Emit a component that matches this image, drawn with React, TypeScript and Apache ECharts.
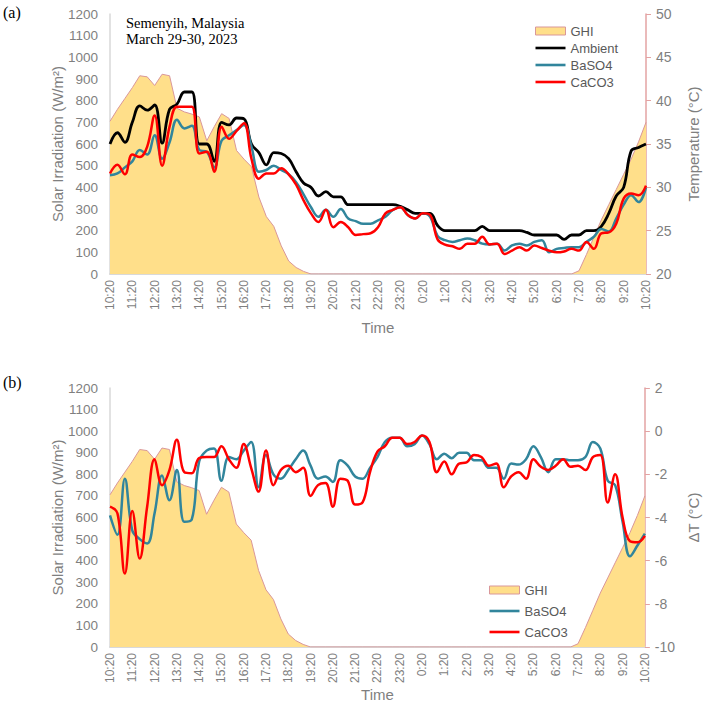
import React, { useEffect, useRef } from 'react';
import * as echarts from 'echarts';

// Hourly tick labels (x axis spans 24 h starting 10:20)
const X_TICK_LABELS = [
  '10:20', '11:20', '12:20', '13:20', '14:20', '15:20', '16:20', '17:20', '18:20',
  '19:20', '20:20', '21:20', '22:20', '23:20', '0:20', '1:20', '2:20', '3:20',
  '4:20', '5:20', '6:20', '7:20', '8:20', '9:20', '10:20',
];
const LEFT_TICKS_MAX = 1200;
const SAMPLE_HOURS = 1 / 3; // one sample every 20 minutes

// Global horizontal irradiance, W/m² (73 samples, 20-min step)
const GHI = [
  705, 760, 810, 860, 915, 910, 870, 922, 915, 765, 748, 738, 725, 615, 680, 740, 718, 570,
  530, 495, 355, 265, 220, 130, 60, 30, 12, 0,
  0, 0, 0, 0, 0, 0, 0, 0, 0, 0, 0, 0, 0, 0, 0, 0, 0, 0, 0, 0, 0, 0, 0, 0, 0, 0, 0, 0, 0, 0,
  0, 0, 0, 0, 0,
  15, 90, 170, 250, 320, 390, 460, 530, 610, 700,
];

// Temperatures, °C (panel a)
const AMBIENT = [
  35.0, 36.3, 35.2, 37.5, 39.4, 38.9, 39.5, 35.1, 39.0, 39.6, 41.0, 41.0, 35.0, 35.0, 33.0,
  37.5, 37.2, 38.0, 37.9, 35.0, 34.0, 32.6, 34.0, 33.9, 33.3, 31.8, 30.5, 30.0, 29.0, 29.5,
  28.9, 28.9, 28.0, 28.0, 28.0, 28.0, 28.0, 28.0, 28.0, 27.8, 27.4, 27.0, 27.0, 27.0, 25.6,
  25.0, 25.0, 25.0, 25.0, 25.0, 25.5, 25.0, 25.0, 25.0, 25.0, 25.0, 24.8, 24.5, 24.5, 24.5,
  24.5, 24.0, 24.5, 24.5, 25.0, 25.0, 25.5, 27.0, 29.0, 30.0, 34.2, 34.6, 35.0,
];
const BASO4_T = [
  31.4, 31.6, 32.3, 33.0, 34.3, 33.8, 36.0, 33.3, 35.2, 37.8, 36.8, 37.1, 34.3, 34.1, 32.3,
  35.4, 36.0, 36.6, 37.2, 34.7, 31.8, 32.0, 32.5, 32.0, 31.5, 30.6, 29.2, 27.7, 26.6, 27.4,
  26.6, 27.5, 26.4, 26.1, 25.8, 25.8, 26.2, 26.6, 27.4, 27.7, 26.8, 26.4, 27.0, 26.6, 24.4,
  23.9, 23.7, 23.9, 24.1, 23.9, 23.5, 23.4, 23.5, 22.7, 23.3, 23.5, 23.3, 23.7, 23.9, 22.5,
  22.9, 23.0, 23.1, 23.1, 23.7, 24.3, 25.2, 24.9, 26.4, 28.0, 29.1, 28.3, 30.0,
];
const CACO3_T = [
  31.6, 32.6, 31.5, 33.8, 33.5, 34.7, 38.3, 32.5, 37.0, 39.3, 39.3, 39.3, 33.9, 34.1, 31.8,
  37.0, 35.6, 36.5, 37.4, 33.3, 31.0, 31.6, 31.6, 32.2, 31.5, 30.3, 28.5, 27.0, 26.0, 27.4,
  25.4, 26.0, 25.4, 24.5, 24.6, 24.7, 25.4, 27.0, 27.4, 27.7, 26.8, 26.4, 27.0, 26.8, 24.0,
  23.4, 23.2, 22.9, 23.5, 23.5, 24.3, 23.4, 23.5, 22.3, 22.7, 23.1, 22.7, 23.3, 23.0, 22.7,
  22.5, 22.6, 22.9, 22.7, 23.7, 22.9, 24.7, 24.8, 25.8, 28.7, 29.3, 29.1, 30.2,
];

// Temperature difference ΔT, °C (panel b)
const BASO4_DT = [
  -3.9, -4.8, -2.2, -4.6, -5.0, -5.2, -3.8, -2.05, -3.2, -1.8, -4.2, -4.1, -1.4, -0.9, -0.8,
  -2.3, -1.2, -1.3, -0.9, -0.5, -2.6, -1.1, -2.0, -2.2, -1.8, -1.3, -0.9, -1.6, -2.2, -2.1,
  -2.35, -1.35, -1.6, -2.1, -2.2, -1.7, -1.2, -0.5, -0.3, -0.3, -0.7, -0.6, -0.2, -0.6, -1.3,
  -1.05, -1.25, -1.0, -1.0, -1.35, -1.35, -1.7, -1.7, -2.2, -1.5, -1.55, -1.3, -0.7, -1.2, -1.9,
  -1.3, -1.3, -1.35, -1.35, -1.2, -0.5, -0.8, -2.3, -2.5, -4.2, -5.8, -5.3, -4.75,
];
const CACO3_DT = [
  -3.5, -3.8, -6.6, -3.7, -5.9, -3.5, -1.3, -2.5, -1.8, -0.4, -1.9, -1.95, -1.25, -1.2, -1.2,
  -0.7, -1.3, -1.7, -0.6, -1.7, -2.8, -0.9, -2.5, -1.8, -1.6, -1.9, -1.7, -3.0, -2.5, -2.4,
  -3.5, -2.2, -2.3, -3.4, -3.3, -1.9, -0.95, -0.7, -0.3, -0.3, -0.6, -0.5, -0.2, -0.5, -1.9,
  -1.4, -2.0, -1.5, -1.45, -1.1, -1.2, -1.6, -1.5, -2.6, -2.1, -1.9, -2.2, -1.3, -1.65, -1.8,
  -1.6, -1.3, -1.65, -1.6, -1.8, -1.2, -1.1, -3.3, -2.0, -4.0, -5.1, -5.15, -4.85,
];

const SANS = "'Liberation Sans', Arial, sans-serif";
const SERIF = "'Liberation Serif', 'Times New Roman', serif";
const GRAY = '#7f7f7f';
const PINK = '#E3A3A3';
const GHI_FILL = '#FFDF8A';
const GHI_EDGE = '#D9979A';
const C_AMB = '#000000';
const C_BA = '#31859C';
const C_CA = '#FF0000';

const pairs = (arr: number[]) => arr.map((v, i) => [i * SAMPLE_HOURS, v]);
const plain = (v: number) => String(v);

function xAxis(gridIndex: number, nameGap: number) {
  return {
    type: 'value',
    gridIndex,
    min: 0,
    max: X_TICK_LABELS.length - 1,
    interval: 1,
    axisLine: { show: true, onZero: false, lineStyle: { color: '#D9D9D9', width: 2 } },
    axisTick: { show: false },
    splitLine: { show: false },
    axisLabel: {
      rotate: 90,
      margin: 6,
      color: GRAY,
      fontSize: 12,
      fontFamily: SANS,
      showMinLabel: true,
      showMaxLabel: true,
      formatter: (v: number) => X_TICK_LABELS[Math.round(v)] ?? '',
    },
    name: 'Time',
    nameLocation: 'middle',
    nameGap,
    nameMoveOverlap: false,
    nameTextStyle: { color: GRAY, fontSize: 15, fontFamily: SANS },
  };
}

function leftAxis(gridIndex: number) {
  return {
    type: 'value',
    gridIndex,
    position: 'left',
    min: 0,
    max: LEFT_TICKS_MAX,
    interval: 100,
    axisLine: { show: true, onZero: false, lineStyle: { color: '#D9D9D9', width: 1.5 } },
    axisTick: { show: false },
    splitLine: { show: false },
    axisLabel: { color: GRAY, fontSize: 13.5, fontFamily: SANS, margin: 12, formatter: plain },
    name: 'Solar Irradiation (W/m²)',
    nameLocation: 'middle',
    nameRotate: 90,
    nameGap: 45,
    nameMoveOverlap: false,
    nameTextStyle: { color: GRAY, fontSize: 15, fontFamily: SANS },
  };
}

function rightAxis(gridIndex: number, min: number, max: number, interval: number, name: string) {
  return {
    type: 'value',
    gridIndex,
    position: 'right',
    min,
    max,
    interval,
    axisLine: { show: true, onZero: false, lineStyle: { color: PINK, width: 1.5 } },
    axisTick: { show: true, inside: false, length: 5, lineStyle: { color: PINK } },
    splitLine: { show: false },
    axisLabel: { color: GRAY, fontSize: 14, fontFamily: SANS, margin: 10, formatter: plain },
    name,
    nameLocation: 'middle',
    nameRotate: 90,
    nameGap: 40,
    nameTextStyle: { color: GRAY, fontSize: 15, fontFamily: SANS },
  };
}

function ghiSeries(xi: number, yi: number) {
  return {
    name: 'GHI',
    type: 'line',
    xAxisIndex: xi,
    yAxisIndex: yi,
    data: pairs(GHI),
    symbol: 'none',
    smooth: false,
    itemStyle: { color: GHI_FILL },
    lineStyle: { color: GHI_EDGE, width: 1 },
    areaStyle: { color: GHI_FILL, opacity: 1 },
    z: 1,
  };
}

function lineSeries(name: string, data: number[], color: string, xi: number, yi: number, width = 2.5) {
  return {
    name,
    type: 'line',
    xAxisIndex: xi,
    yAxisIndex: yi,
    data: pairs(data),
    symbol: 'none',
    smooth: 0.4,
    itemStyle: { color },
    lineStyle: { color, width },
    z: 3,
  };
}

const LINE_ICON = 'path://M0,0H30V2.6H0Z';
const legendItems = (names: string[], colors: Record<string, string>) =>
  names.map((n) =>
    n === 'GHI'
      ? { name: n, icon: 'rect', itemStyle: { color: GHI_FILL, borderColor: GHI_EDGE, borderWidth: 1 } }
      : { name: n, icon: LINE_ICON, itemStyle: { color: colors[n], borderWidth: 0 } },
  );

export default function App() {
  const ref = useRef<HTMLDivElement>(null);
  useEffect(() => {
    if (!ref.current) return;
    const chart = echarts.init(ref.current, undefined, { renderer: 'svg' });
    const colors = { Ambient: C_AMB, BaSO4: C_BA, CaCO3: C_CA };
    chart.setOption({
      animation: false,
      backgroundColor: '#ffffff',
      grid: [
        { left: 110, right: 49, top: 14, height: 260 },
        { left: 110, right: 51, top: 388, height: 259 },
      ],
      xAxis: [xAxis(0, 46), xAxis(1, 40)],
      yAxis: [
        leftAxis(0),
        rightAxis(0, 20, 50, 5, 'Temperature (°C)'),
        leftAxis(1),
        rightAxis(1, -10, 2, 2, 'ΔT (°C)'),
      ],
      legend: [
        {
          orient: 'vertical',
          left: 535,
          top: 24,
          padding: 0,
          itemWidth: 30,
          itemHeight: 8,
          itemGap: 3,
          selectedMode: false,
          textStyle: { color: '#595959', fontSize: 13, fontFamily: SANS, lineHeight: 14 },
          data: legendItems(['GHI', 'Ambient', 'BaSO4', 'CaCO3'], colors),
        },
        {
          orient: 'vertical',
          left: 489,
          top: 583,
          padding: 0,
          itemWidth: 30,
          itemHeight: 8,
          itemGap: 7,
          selectedMode: false,
          textStyle: { color: '#595959', fontSize: 13, fontFamily: SANS, lineHeight: 14 },
          data: legendItems(['GHI', 'BaSO4', 'CaCO3'], colors),
        },
      ],
      graphic: [
        { type: 'text', left: 3, top: 4, style: { text: '(a)', font: `16px ${SERIF}`, fill: '#000' } },
        { type: 'text', left: 3, top: 374, style: { text: '(b)', font: `16px ${SERIF}`, fill: '#000' } },
        {
          type: 'text',
          left: 126,
          top: 15,
          style: {
            text: 'Semenyih, Malaysia\nMarch 29-30, 2023',
            font: `14.5px ${SERIF}`,
            lineHeight: 16,
            fill: '#000',
          },
        },
      ],
      series: [
        ghiSeries(0, 0),
        lineSeries('Ambient', AMBIENT, C_AMB, 0, 1, 2.8),
        lineSeries('BaSO4', BASO4_T, C_BA, 0, 1),
        lineSeries('CaCO3', CACO3_T, C_CA, 0, 1),
        ghiSeries(1, 2),
        lineSeries('BaSO4', BASO4_DT, C_BA, 1, 3),
        lineSeries('CaCO3', CACO3_DT, C_CA, 1, 3),
      ],
    });
    return () => chart.dispose();
  }, []);
  return (
    <div
      ref={ref}
      style={{ position: 'fixed', left: 0, top: 0, width: 709, height: 707, background: '#fff' }}
    />
  );
}
